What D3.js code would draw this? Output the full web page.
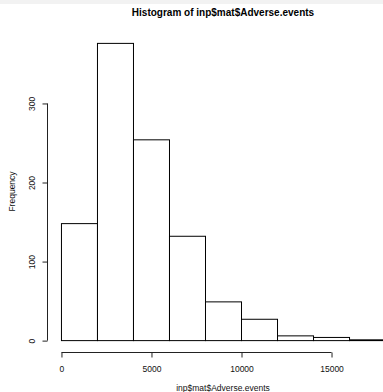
<!DOCTYPE html>
<html>
<head>
<meta charset="utf-8">
<script src="https://cdn.jsdelivr.net/npm/d3@7"></script>
<style>
  body { margin: 0; background: #fff; }
  svg { display: block; font-family: "Liberation Sans", Arial, Helvetica, sans-serif; }
  .axis text { font-size: 8.5px; fill: #111; }
  .axis path, .axis line { stroke: #222; }
</style>
</head>
<body>
<svg id="chart" width="383" height="392"></svg>
<script>
// histogram data
var binEdges = [0, 2000, 4000, 6000, 8000, 10000, 12000, 14000, 16000, 18000];
var counts = [148, 376, 254, 132, 49, 27, 6, 4, 1];
var xTicks = [0, 5000, 10000, 15000];
var yTicks = [0, 100, 200, 300];
var titleText = "Histogram of inp$mat$Adverse.events";
var xLabel = "inp$mat$Adverse.events";
var yLabel = "Frequency";

var svg = d3.select("#chart");
var W = 383, H = 392;

// thin grey strip at the very top
svg.append("rect").attr("x", 0).attr("y", 0).attr("width", W).attr("height", 4).attr("fill", "#f2f2f2");

// plot region (R style, 4% padding on each side)
var plot = {left: 48, right: 398, top: 31, bottom: 352};
var xMax = d3.max(binEdges), yMax = d3.max(counts);

var x = d3.scaleLinear()
    .domain([-0.04 * xMax, xMax * 1.04])
    .range([plot.left, plot.right]);

var y = d3.scaleLinear()
    .domain([-0.04 * yMax, yMax * 1.04])
    .range([plot.bottom, plot.top]);

var bins = counts.map(function(c, i) { return {x0: binEdges[i], x1: binEdges[i + 1], n: c}; });

// bars
svg.append("g").selectAll("rect")
    .data(bins)
  .enter().append("rect")
    .attr("x", function(d) { return x(d.x0) + 0.5; })
    .attr("y", function(d) { return y(d.n) + 0.5; })
    .attr("width", function(d) { return x(d.x1) - x(d.x0); })
    .attr("height", function(d) { return y(0) - y(d.n); })
    .attr("fill", "#fff")
    .attr("stroke", "#000")
    .attr("stroke-width", 1);

// x axis
var gx = svg.append("g")
    .attr("class", "axis")
    .attr("transform", "translate(0.5," + (plot.bottom + 0.5) + ")")
    .call(d3.axisBottom(x).tickValues(xTicks).tickSize(5).tickSizeOuter(0).tickPadding(8).tickFormat(d3.format("d")));
gx.select(".domain").attr("d", "M" + x(xTicks[0]) + ",0H" + x(xTicks[xTicks.length - 1]));

// y axis, labels rotated like R's default
var gy = svg.append("g")
    .attr("class", "axis")
    .attr("transform", "translate(" + (plot.left - 0.5) + ",0.5)")
    .call(d3.axisLeft(y).tickValues(yTicks).tickSize(5).tickSizeOuter(0).tickFormat(d3.format("d")));
gy.select(".domain").attr("d", "M0," + y(yTicks[0]) + "V" + y(yTicks[yTicks.length - 1]));
gy.selectAll(".tick text")
    .attr("x", null).attr("dy", null)
    .attr("text-anchor", "middle")
    .attr("transform", "translate(-12.5,0) rotate(-90)");

// titles
svg.append("text")
    .attr("x", (plot.left + plot.right) / 2).attr("y", 16)
    .attr("text-anchor", "middle")
    .attr("font-size", "10px").attr("font-weight", "bold")
    .text(titleText);

svg.append("text")
    .attr("x", (plot.left + plot.right) / 2).attr("y", 391)
    .attr("text-anchor", "middle")
    .attr("font-size", "8.5px").attr("fill", "#111")
    .text(xLabel);

svg.append("text")
    .attr("transform", "translate(15," + (plot.top + plot.bottom) / 2 + ") rotate(-90)")
    .attr("text-anchor", "middle")
    .attr("font-size", "8.5px").attr("fill", "#111")
    .text(yLabel);
</script>
</body>
</html>
